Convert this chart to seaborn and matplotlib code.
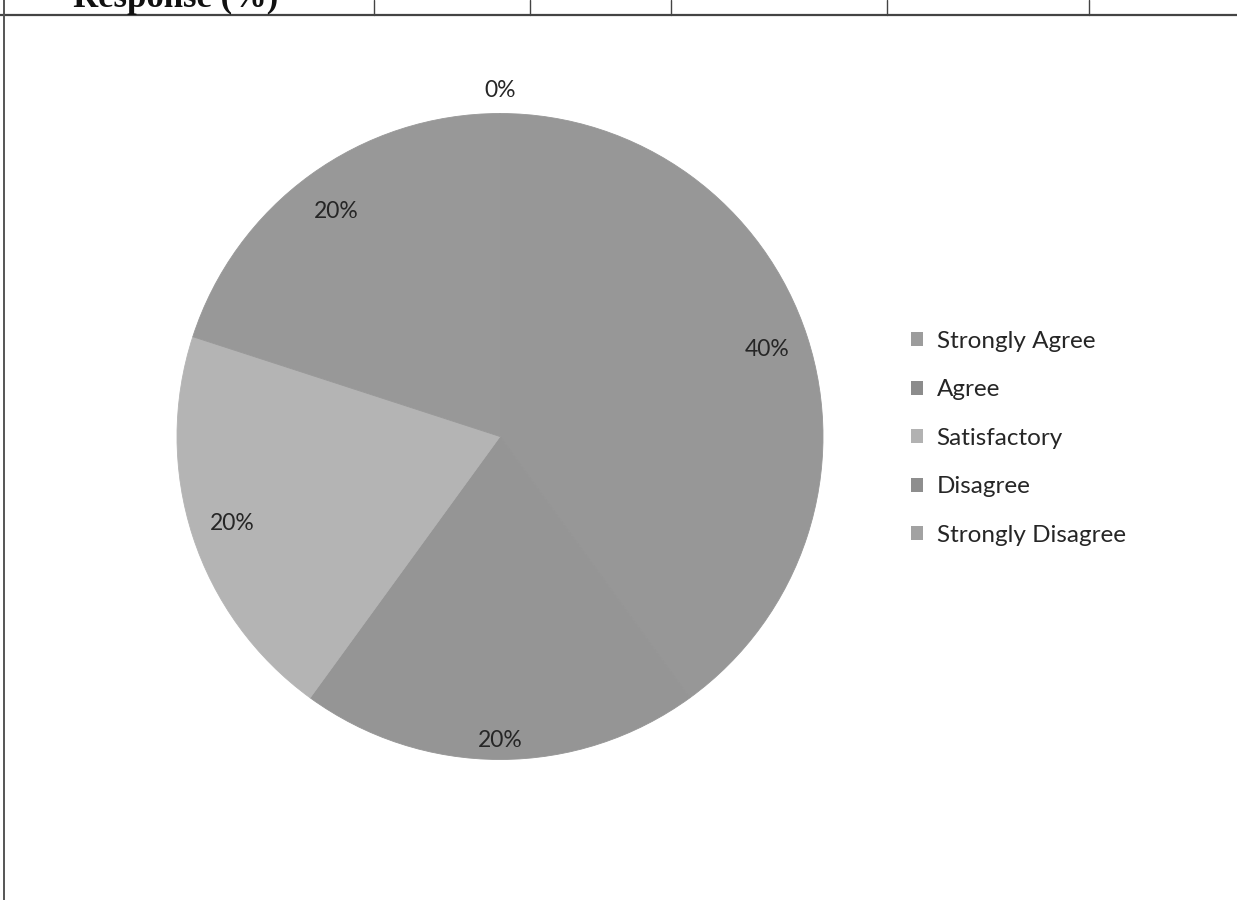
"""Pie chart of survey responses (grayscale scan look), rebuilt with seaborn + matplotlib."""
import matplotlib

matplotlib.use("Agg")
import matplotlib.pyplot as plt
from matplotlib.lines import Line2D
from matplotlib.patches import Patch
import numpy as np
import seaborn as sns

# ---- data -----------------------------------------------------------------
categories = ["Strongly Agree", "Agree", "Satisfactory", "Disagree", "Strongly Disagree"]
percentages = [0, 40, 20, 20, 20]
pct_labels = ["0%", "40%", "20%", "20%", "20%"]
header_text = "Response (%)"

# ---- style ----------------------------------------------------------------
sns.set_theme(style="white")
plt.rcParams["font.family"] = ["Lato", "DejaVu Sans"]

slice_colors = ["#9a9a9a", "#979797", "#959595", "#b4b4b4", "#989898"]
legend_colors = ["#9c9c9c", "#8c8c8c", "#b2b2b2", "#8e8e8e", "#a2a2a2"]
label_dist = [1.07, 0.87, 0.94, 0.87, 0.86]
text_color = "#262626"

W, H, DPI = 1237, 900, 100
fig = plt.figure(figsize=(W / DPI, H / DPI), dpi=DPI)
fig.patch.set_facecolor("white")

# pie axes: center (500, 436) px, radius 323 px
cx, cy, r = 500, 436.5, 323
ax = fig.add_axes([(cx - r) / W, 1 - (cy + r) / H, 2 * r / W, 2 * r / H])
wedges, _ = ax.pie(
    percentages,
    colors=slice_colors,
    startangle=90,
    counterclock=False,
    radius=1,
    wedgeprops=dict(linewidth=0.6),
)
for w in wedges:
    w.set_edgecolor(w.get_facecolor())
ax.set_xlim(-1, 1)
ax.set_ylim(-1, 1)
ax.set_aspect("equal")
ax.axis("off")

for w, lab, d in zip(wedges, pct_labels, label_dist):
    mid = np.deg2rad((w.theta1 + w.theta2) / 2)
    ax.text(d * np.cos(mid), d * np.sin(mid), lab, ha="center", va="center",
            fontsize=16.5, color=text_color, clip_on=False)

handles = [Patch(facecolor=c, edgecolor="none") for c in legend_colors]
fig.legend(
    handles, categories,
    loc="upper left",
    bbox_to_anchor=(911 / W, 1 - 331 / H),
    frameon=False,
    fontsize=17.5,
    handlelength=0.5,
    handleheight=0.5,
    handletextpad=0.55,
    labelspacing=1.13,
    borderpad=0,
    borderaxespad=0,
    labelcolor=text_color,
)

# frame of the scanned table cell
over = fig.add_axes([0, 0, 1, 1], zorder=-1)
over.set_xlim(0, W)
over.set_ylim(H, 0)
over.axis("off")
over.add_line(Line2D([0, W], [15, 15], color="#444444", lw=1.6))
over.add_line(Line2D([4, 4], [0, H], color="#555555", lw=1.4))
for x in [374, 530, 671, 887, 1089]:
    over.add_line(Line2D([x, x], [0, 15], color="#444444", lw=1.0))
over.text(278, 7, header_text, ha="right", va="baseline", fontsize=25,
          fontweight="bold", family=["Liberation Serif", "DejaVu Serif"], color="#111111")

fig.savefig("out.png", dpi=DPI)
